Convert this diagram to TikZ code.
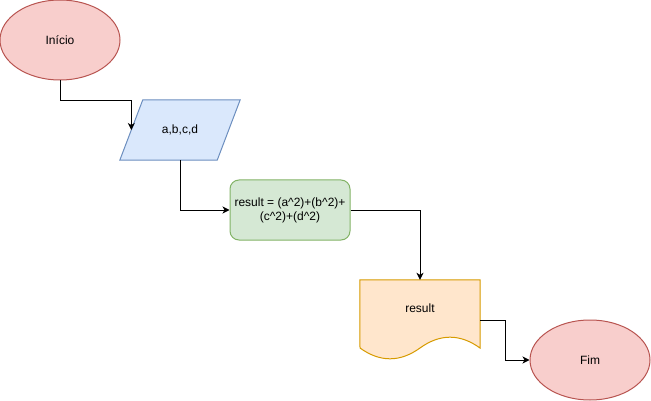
\documentclass[tikz,border=0pt]{standalone}
\usepackage{fontspec}
\setmainfont{Liberation Sans}
\usetikzlibrary{calc}
\usetikzlibrary{positioning}
\usetikzlibrary{shapes.geometric}
\usetikzlibrary{arrows.meta,backgrounds}
\definecolor{vermfundo}{HTML}{F8CECC}
\definecolor{vermborda}{HTML}{B85450}
\definecolor{azulfundo}{HTML}{DAE8FC}
\definecolor{azulborda}{HTML}{6C8EBF}
\definecolor{verdefundo}{HTML}{D5E8D4}
\definecolor{verdeborda}{HTML}{82B366}
\definecolor{larfundo}{HTML}{FFE6CC}
\definecolor{larborda}{HTML}{D79B00}
\tikzset{
	>={Stealth[length=7pt,width=7pt,inset=2pt]},
	terminal/.style={
		ellipse,
		fill=vermfundo,
		draw=vermborda, line width=1pt,
		minimum width=120pt,
		minimum height=80pt,
		inner sep=0pt},
	entrada/.style={
		rectangle,
		minimum width=120pt,
		minimum height=60pt,
		inner sep=0pt},
	entborda/.style={fill=azulfundo, draw=azulborda, line width=1pt},
	processo/.style={
		rectangle,
		rounded corners=9pt,
		fill=verdefundo,
		draw=verdeborda, line width=1pt,
		minimum width=120pt,
		minimum height=60pt,
		align=center,
		inner sep=0pt},
	documento/.style={
		rectangle,
		minimum width=120pt,
		minimum height=80pt,
		inner sep=0pt},
	docborda/.style={fill=larfundo, draw=larborda, line width=1pt},
	line/.style={draw, line width=1pt, ->},
}

\begin{document}
\begin{tikzpicture}
		[x=1pt, y=-1pt, font=\fontsize{12}{14}\selectfont]
		\useasboundingbox (0,0) rectangle (651,401);
		\node[terminal] (inicio) at (60,40) {Início};
		\node[entrada] (dados) at (180,130) {a,b,c,d};
		\node[processo] (calculo) at (290,210) {result = (a\textasciicircum2)+(b\textasciicircum2)+\\(c\textasciicircum2)+(d\textasciicircum2)};
		\node[documento, label={[yshift=12pt]center:result}] (saida) at (420,320) {};
		\node[terminal] (fim) at (590,360) {Fim};
		
		% formas de entrada e documento
		\begin{scope}[on background layer]
		\draw[entborda] ($(dados.north west)+(23,0)$) -- (dados.north east)
			-- ($(dados.south east)+(-23,0)$) -- (dados.south west) -- cycle;
		\draw[docborda] (saida.north west) -- (saida.north east)
			-- ($(saida.center)+(60,28)$)
			.. controls ($(saida.center)+(40,13.6)$) and ($(saida.center)+(20,13.6)$) .. ($(saida.center)+(0,28)$)
			.. controls ($(saida.center)+(-20,42.4)$) and ($(saida.center)+(-40,42.4)$) .. ($(saida.center)+(-60,28)$)
			-- cycle;
		\end{scope}
		
		\draw[line] (inicio.south) -- ++(0,20) -| ($(dados.west)+(11.5,0)$);
		\draw[line] (dados.south) |- (calculo.west);
		\draw[line] (calculo.east) -| (saida.north);
		\draw[line] (saida.east) -- ++(25,0) |- (fim.west);
		
		\end{tikzpicture}
\end{document}
